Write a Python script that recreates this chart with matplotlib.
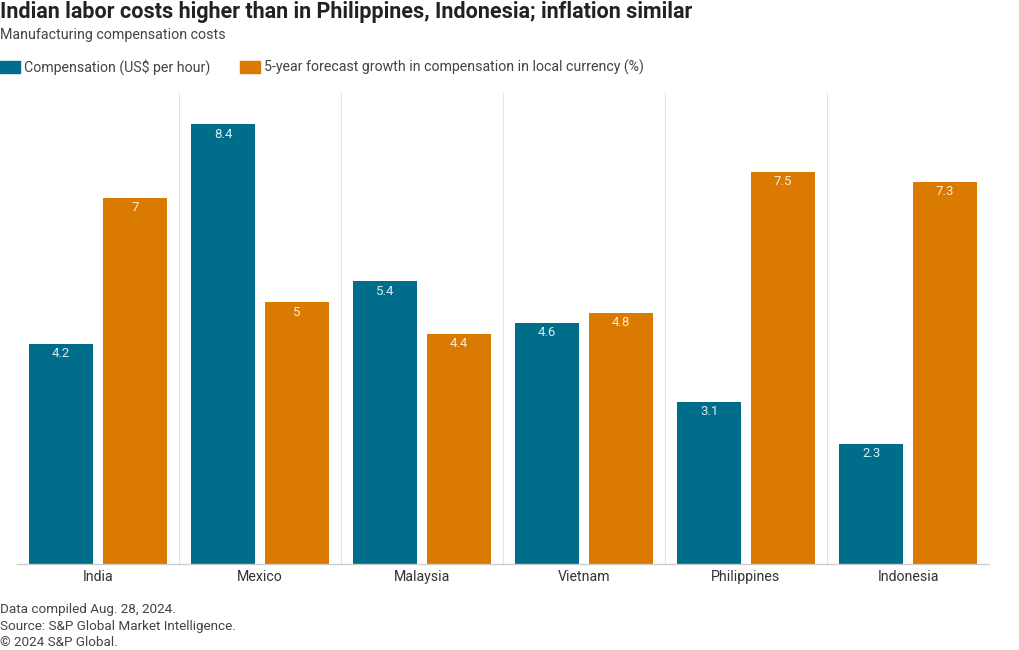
import numpy as np
import matplotlib
matplotlib.use('Agg')
import matplotlib.pyplot as plt
from matplotlib.patches import Rectangle

plt.rcParams['font.family'] = ['Roboto', 'DejaVu Sans']

paises = ['India', 'Mexico', 'Malaysia', 'Vietnam', 'Philippines', 'Indonesia']
compensacao = [4.2, 8.4, 5.4, 4.6, 3.1, 2.3]
crescimento = [7, 5, 4.4, 4.8, 7.5, 7.3]
rotulos_comp = ['4.2', '8.4', '5.4', '4.6', '3.1', '2.3']
rotulos_cresc = ['7', '5', '4.4', '4.8', '7.5', '7.3']
serie_nomes = ['Compensation (US$ per hour)',
               '5-year forecast growth in compensation in local currency (%)']

azul = '#006d8a'
laranja = '#db7a00'

fig = plt.figure(figsize=(10.2, 6.5), dpi=100)
ax = fig.add_axes([17/1020, 1-564/650, 972/1020, (564-93)/650])

x = np.arange(len(paises))
largura = 0.395
desloc = 0.228

b1 = ax.bar(x - desloc, compensacao, largura, color=azul, zorder=2)
b2 = ax.bar(x + desloc, crescimento, largura, color=laranja, zorder=2)

for barra, txt in zip(b1, rotulos_comp):
    ax.annotate(txt, (barra.get_x() + barra.get_width()/2, barra.get_height()),
                xytext=(0, -7), textcoords='offset points', ha='center', va='center',
                color='#d9eef5', fontsize=9.5)
for barra, txt in zip(b2, rotulos_cresc):
    ax.annotate(txt, (barra.get_x() + barra.get_width()/2, barra.get_height()),
                xytext=(0, -7), textcoords='offset points', ha='center', va='center',
                color='#fbe9d2', fontsize=9.5)

# separadores verticais entre categorias
for xs in x[:-1] + 0.5:
    ax.axvline(xs, color='#e3e3e3', lw=0.8, zorder=1)

ax.set_xlim(-0.5, len(paises) - 0.5)
ax.set_ylim(0, 9)
ax.set_xticks(x)
ax.set_xticklabels(paises, fontsize=10.2, color='#333333')
ax.tick_params(axis='x', length=0, pad=4)
ax.set_yticks([])
for lado in ['top', 'right', 'left']:
    ax.spines[lado].set_visible(False)
ax.spines['bottom'].set_color('#cccccc')
ax.spines['bottom'].set_linewidth(1)

# titulos
fig.text(0, 1-12/650, 'Indian labor costs higher than in Philippines, Indonesia; inflation similar',
         fontsize=15.5, fontweight='bold', color='#222222', va='center', ha='left')
fig.text(0, 1-35/650, 'Manufacturing compensation costs',
         fontsize=10.3, color='#444444', va='center', ha='left')

# legenda
for px, cor, nome in [(0, azul, serie_nomes[0]), (240, laranja, serie_nomes[1])]:
    fig.patches.append(Rectangle((px/1020, 1-73/650), 20/1020, 12/650,
                                 transform=fig.transFigure, color=cor, figure=fig))
    fig.text((px+24)/1020, 1-67/650, nome, fontsize=10.2, color='#444444',
             va='center', ha='left')

# rodape
rodape = ['Data compiled Aug. 28, 2024.',
          'Source: S&P Global Market Intelligence.',
          '\u00a9 2024 S&P Global.']
for i, linha in enumerate(rodape):
    fig.text(0, 1-(610 + 16.5*i)/650, linha, fontsize=9.7, color='#444444',
             va='center', ha='left')

fig.savefig('out.png', dpi=100)
